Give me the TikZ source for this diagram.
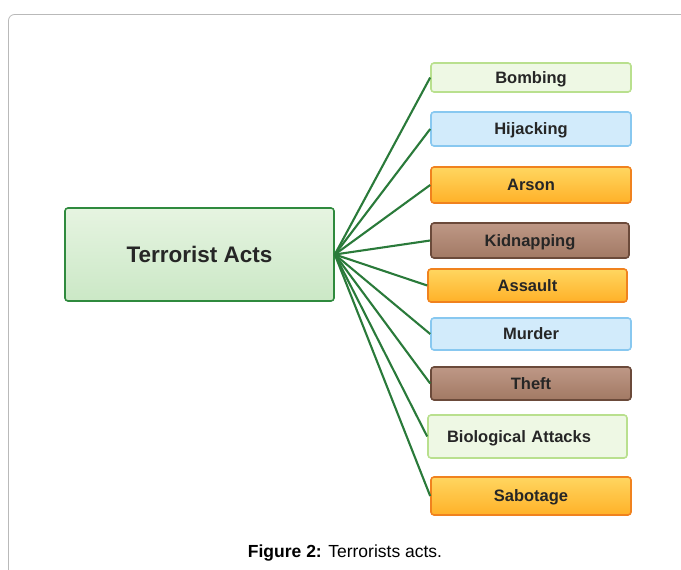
\documentclass[tikz,border=0pt]{standalone}
\usepackage{fontspec}
\setmainfont{Liberation Sans}
\usetikzlibrary{arrows}
\definecolor{linkgreen}{HTML}{2A7A3A}
\definecolor{maindraw}{HTML}{2F8A3E}
\definecolor{maintop}{HTML}{E6F4E1}
\definecolor{mainbot}{HTML}{CBE8C6}
\definecolor{lgfill}{HTML}{EEF8E4}
\definecolor{lgdraw}{HTML}{B9E08E}
\definecolor{lbfill}{HTML}{D2EBFB}
\definecolor{lbdraw}{HTML}{88C8F0}
\definecolor{ortop}{HTML}{FFD660}
\definecolor{orbot}{HTML}{FFB128}
\definecolor{ordraw}{HTML}{F0821E}
\definecolor{brtop}{HTML}{BE9886}
\definecolor{brbot}{HTML}{A27964}
\definecolor{brdraw}{HTML}{6B4A3A}

\begin{document}
\begin{tikzpicture}[x=1pt,y=-1pt]
	\tikzstyle{every node}=[inner sep=0pt, rounded corners=3pt, line width=1.6pt]
	\tikzstyle{act}=[draw, minimum width=200pt, font=\bfseries\fontsize{16.5}{19}\selectfont, text=black!85, text height=12pt, text depth=1pt]
	\tikzstyle{greenbox}=[act, draw=lgdraw, fill=lgfill]
	\tikzstyle{bluebox}=[act, draw=lbdraw, fill=lbfill]
	\tikzstyle{orangebox}=[act, draw=ordraw, top color=ortop, bottom color=orbot]
	\tikzstyle{brownbox}=[act, draw=brdraw, top color=brtop, bottom color=brbot]
	\tikzstyle{link}=[draw=linkgreen, line width=2.1pt]
	\useasboundingbox (0,0) rectangle (681,570);
	\draw[gray!55, line width=0.8pt, rounded corners=6pt] (8.5,590) -- (8.5,14.5) -- (700,14.5);
	\draw (199.5,254.5) node (t) [draw=maindraw, top color=maintop, bottom color=mainbot, minimum width=269pt, minimum height=93pt, font=\bfseries\fontsize{22.5}{26}\selectfont, text=black!85] {Terrorist Acts};
	\draw (531,77.5) node (a1) [greenbox, minimum height=29pt] {Bombing};
	\draw (531,129) node (a2) [bluebox, minimum height=34pt] {Hijacking};
	\draw (531,185) node (a3) [orangebox, minimum height=36pt] {Arson};
	\draw (530,240.5) node (a4) [brownbox, minimum width=198pt, minimum height=35pt] {Kidnapping};
	\draw (527.5,285.5) node (a5) [orangebox, minimum width=199pt, minimum height=33pt] {Assault};
	\draw (531,334) node (a6) [bluebox, minimum height=32pt] {Murder};
	\draw (531,383.5) node (a7) [brownbox, minimum height=33pt] {Theft};
	\draw (527.5,436.5) node (a8) [greenbox, text width=161pt, inner xsep=19pt, align=left, minimum width=199pt, minimum height=43pt] {Biological Attacks};
	\draw (531,496) node (a9) [orangebox, minimum height=38pt] {Sabotage};
	\draw (345,553) node (cap) [font=\fontsize{17.5}{20}\selectfont] {\textbf{Figure 2:} Terrorists acts.};
	\draw[link] (t.east) -- (a1.west);
	\draw[link] (t.east) -- (a2.west);
	\draw[link] (t.east) -- (a3.west);
	\draw[link] (t.east) -- (a4.west);
	\draw[link] (t.east) -- (a5.west);
	\draw[link] (t.east) -- (a6.west);
	\draw[link] (t.east) -- (a7.west);
	\draw[link] (t.east) -- (a8.west);
	\draw[link] (t.east) -- (a9.west);
\end{tikzpicture}
\end{document}
